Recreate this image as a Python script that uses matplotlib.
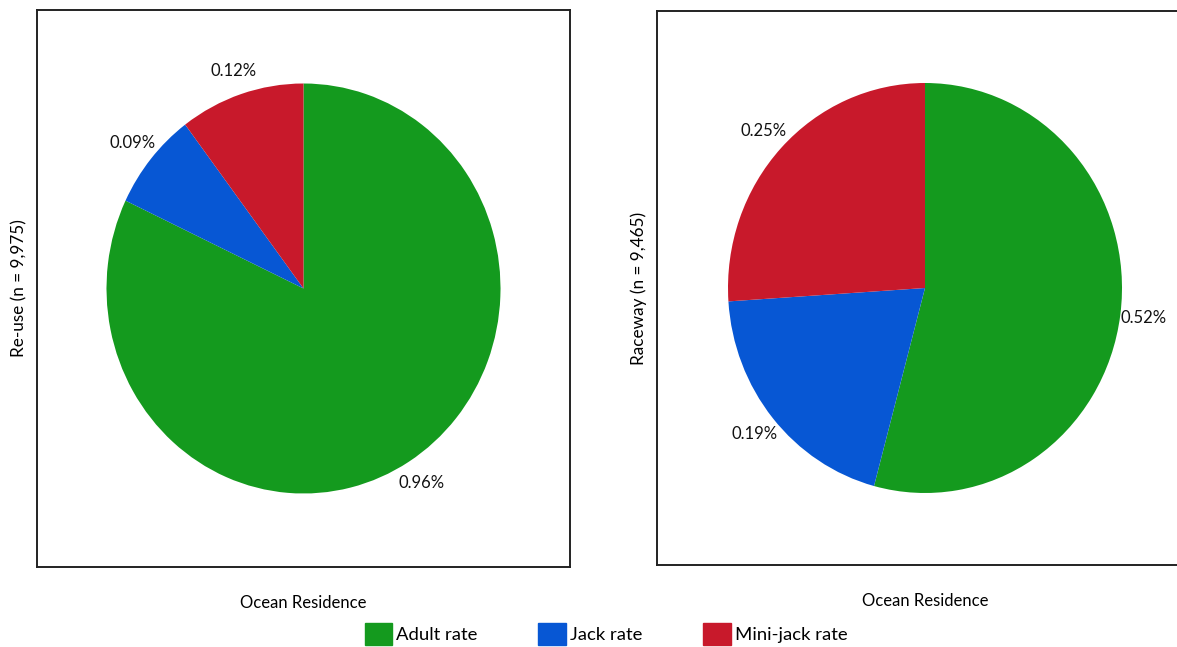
import matplotlib
matplotlib.use('Agg')
import matplotlib.pyplot as plt
import matplotlib.patches as mpatches

plt.rcParams['font.family'] = ['Lato', 'DejaVu Sans']

categories = ['Adult rate', 'Jack rate', 'Mini-jack rate']
reuse_values = [0.96, 0.09, 0.12]
raceway_values = [0.52, 0.19, 0.25]
reuse_labels = ['0.96%', '0.09%', '0.12%']
raceway_labels = ['0.52%', '0.19%', '0.25%']
colors = ['#149A1E', '#0757D4', '#C8192B']

W, H = 1177, 647
fig = plt.figure(figsize=(W / 100, H / 100), dpi=100)

RX = 197.0  # pie radius in pixels, horizontal
RY = 205.0  # vertical (the source pies are a little tall)


def drawPie(rect_px, values, labels, ylabel):
    x0, y0, x1, y1 = rect_px  # pixel box, y from top
    ax = fig.add_axes([x0 / W, (H - y1) / H, (x1 - x0) / W, (y1 - y0) / H])
    wedges, texts = ax.pie(values, labels=labels, colors=colors, startangle=90,
                           counterclock=False, labeldistance=1.12, frame=True,
                           wedgeprops={'linewidth': 0},
                           textprops={'fontsize': 12, 'color': '#111111'})
    for t in texts:
        t.set_ha('center')
        t.set_va('center')
    hw = (x1 - x0) / 2.0 / RX
    hh = (y1 - y0) / 2.0 / RY
    ax.set_xlim(-hw, hw)
    ax.set_ylim(-hh, hh)
    ax.set_aspect('auto')
    ax.set_xticks([])
    ax.set_yticks([])
    for s in ax.spines.values():
        s.set_linewidth(1.4)
        s.set_color('#222222')
    ax.set_ylabel(ylabel, fontsize=12.3, labelpad=7)
    ax.set_xlabel('Ocean Residence', fontsize=12, labelpad=20)
    return ax


drawPie((37, 10, 570, 567), reuse_values, reuse_labels, 'Re-use (n = 9,975)')
drawPie((657, 11, 1193, 565), raceway_values, raceway_labels, 'Raceway (n = 9,465)')

handles = [mpatches.Patch(color=c, label=l) for c, l in zip(colors, categories)]
fig.legend(handles=handles, loc='center', bbox_to_anchor=(606 / W, 1 - 634 / H),
           ncol=3, frameon=False, fontsize=13.3, handlelength=1.5, handleheight=1.5,
           handletextpad=0.2, columnspacing=3.3)

fig.savefig('out.png', dpi=100)
